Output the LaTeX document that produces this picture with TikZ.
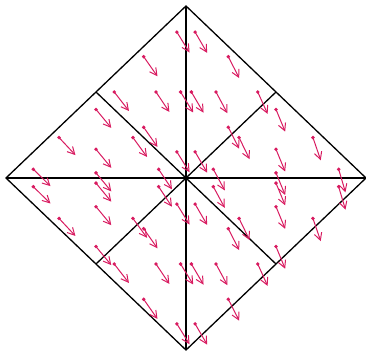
\documentclass[tikz,border=0pt]{standalone}
\usetikzlibrary{arrows.meta,calc}
\definecolor{Field}{HTML}{D81B60}

\begin{document}
\begin{tikzpicture}[x=90pt,y=86pt,
    edge/.style={draw=black,line width=0.65pt},
    axisedge/.style={draw=black,line width=1pt},
    vec/.style={draw=Field,line width=0.5pt,-{Straight Barb[length=3.6pt,width=3.8pt]}},
    qpoint/.style={fill=Field}]
  \useasboundingbox (-1.0333,-1.0058) rectangle (1,1.0349);
  % mesh vertices
  \coordinate (C) at (0,0);
  \coordinate (T) at (0,1);
  \coordinate (B) at (0,-1);
  \coordinate (L) at (-1,0);
  \coordinate (R) at (1,0);
  \coordinate (TL) at (-0.5,0.5);
  \coordinate (TR) at (0.5,0.5);
  \coordinate (BL) at (-0.5,-0.5);
  \coordinate (BR) at (0.5,-0.5);
  % mesh
  \draw[edge] (T) -- (R) -- (B) -- (L) -- cycle;
  \draw[edge] (TL) -- (BR);
  \draw[edge] (TR) -- (BL);
  \draw[axisedge] (L) -- (R);
  \draw[axisedge] (T) -- (B);
  % field at the 7 quadrature points of each triangle
  \foreach \ta/\tb/\tc in {T/TL/C,T/TR/C,L/TL/C,L/BL/C,R/TR/C,R/BR/C,B/BL/C,B/BR/C}{
    \foreach \wa/\wb/\wc in {0.33333/0.33333/0.33334,
        0.05972/0.47014/0.47014,0.47014/0.05972/0.47014,0.47014/0.47014/0.05972,
        0.79743/0.10129/0.10128,0.10129/0.79743/0.10128,0.10129/0.10128/0.79743}{
      \coordinate (qp) at ($\wa*(\ta)+\wb*(\tb)+\wc*(\tc)$);
      \draw[vec] let \p1 = (qp), \n1 = {59+0.19*\x1} in (qp) -- ++(-\n1:12pt);
      \fill[qpoint] (qp) circle[radius=0.95pt];
    }
  }
\end{tikzpicture}
\end{document}
